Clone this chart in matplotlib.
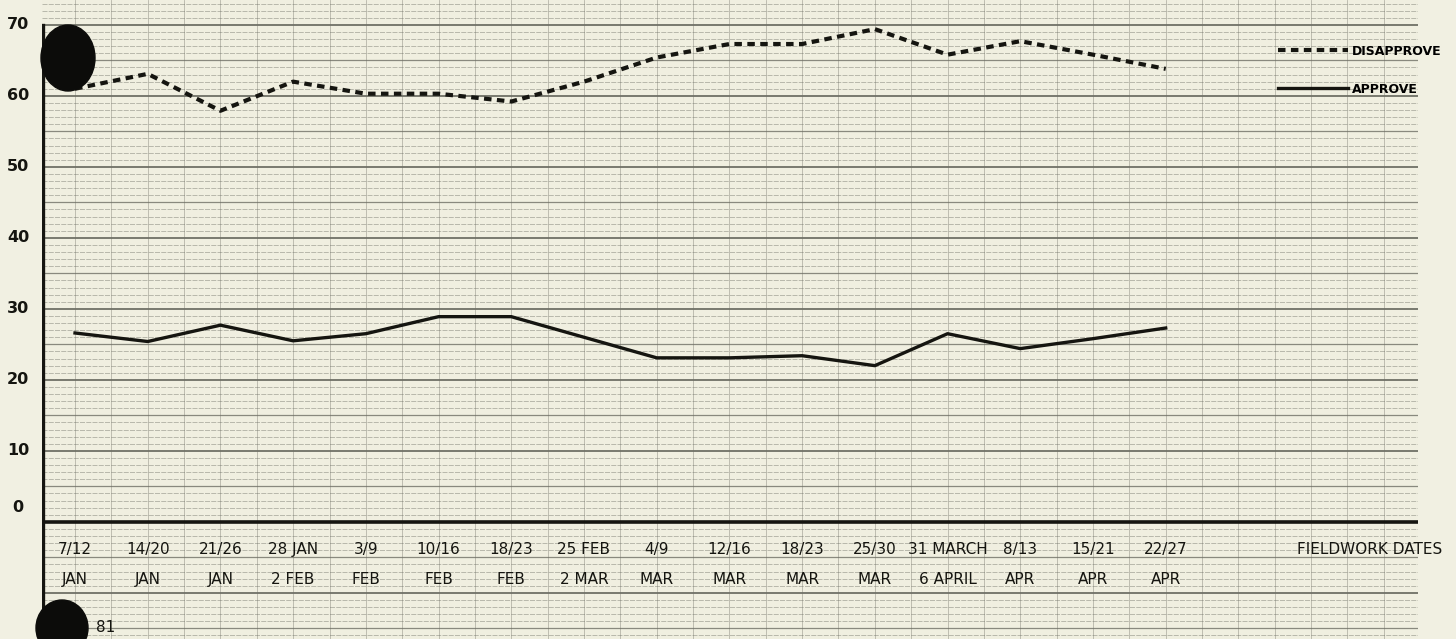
import numpy as np
import matplotlib
matplotlib.use("Agg")
from matplotlib import pyplot as plt
from matplotlib.patches import Ellipse

# fieldwork weeks, 1981
dates_top = ['7/12', '14/20', '21/26', '28 JAN', '3/9', '10/16', '18/23', '25 FEB',
             '4/9', '12/16', '18/23', '25/30', '31 MARCH', '8/13', '15/21', '22/27']
dates_bottom = ['JAN', 'JAN', 'JAN', '2 FEB', 'FEB', 'FEB', 'FEB', '2 MAR',
                'MAR', 'MAR', 'MAR', 'MAR', '6 APRIL', 'APR', 'APR', 'APR']

disapprove = [61.0, 63.1, 57.9, 62.0, 60.3, 60.3, 59.2, 62.0,
              65.4, 67.3, 67.3, 69.4, 65.8, 67.7, 65.8, 63.8]
approve = [26.6, 25.4, 27.7, 25.5, 26.5, 28.9, 28.9, 26.0,
           23.1, 23.1, 23.4, 22.0, 26.5, 24.4, 25.8, 27.3]

y_labels = [0, 10, 20, 30, 40, 50, 60, 70]

ink = '#151510'
paper = '#f0efe0'
rule = '#6f7066'

fig = plt.figure(figsize=(14.56, 6.39), dpi=100)
fig.patch.set_facecolor('#f1f0e2')
ax = fig.add_axes([42 / 1456, 0, 1376 / 1456, 1])
ax.set_facecolor(paper)

x = np.arange(len(dates_top))
xmin, xmax = -0.454, 18.47
ymin, ymax = -16.5, 73.5
ax.set_xlim(xmin, xmax)
ax.set_ylim(ymin, ymax)

# graph paper
for v in range(-16, 74):
    if v % 10 == 0:
        ax.axhline(v, color=rule, lw=1.3, zorder=0)
    elif v % 5 == 0:
        ax.axhline(v, color=rule, lw=0.9, alpha=0.8, zorder=0)
    else:
        ax.axhline(v, color=rule, lw=0.6, alpha=0.5, ls=(0, (6, 1.5)), zorder=0)
for gx in np.arange(0, 18.6, 0.5):
    ax.axvline(gx, color=rule, lw=0.6, alpha=0.45, zorder=0)

# axes drawn by hand
ax.axhline(0, color=ink, lw=2.6, zorder=2)
ax.axvline(xmin + 0.02, ymin=0, ymax=(70 - ymin) / (ymax - ymin), color=ink, lw=2.4, zorder=2)

ax.plot(x, disapprove, color=ink, lw=3.0, ls=(0, (1.8, 1.3)), label='DISAPPROVE', zorder=3)
ax.plot(x, approve, color=ink, lw=2.4, label='APPROVE', zorder=3)

for s in ax.spines.values():
    s.set_visible(False)
ax.set_xticks([])
ax.set_yticks([])

hand = dict(color=ink, fontsize=11, family='DejaVu Sans Condensed')

for i in range(len(x)):
    ax.text(x[i], -3.9, dates_top[i], ha='center', va='center', **hand)
    ax.text(x[i], -8.1, dates_bottom[i], ha='center', va='center', **hand)
ax.text(16.8, -3.9, 'FIELDWORK DATES', ha='left', va='center', **hand)

for v in y_labels:
    yy = v + 2.0 if v == 0 else v
    ax.text(-0.0174, yy, str(v), transform=ax.get_yaxis_transform(), ha='center', va='center',
            color=ink, fontsize=11.5, fontweight='bold')

leg = ax.legend(loc='upper left', bbox_to_anchor=(0.894, 0.94), frameon=False,
                handlelength=5.6, handletextpad=0.3, labelspacing=2.0, borderpad=0,
                prop={'family': 'DejaVu Sans Condensed', 'size': 9, 'weight': 'bold'})

# punched holes in the sheet
fig.add_artist(Ellipse((68 / 1456, 1 - 58 / 639), 54 / 1456, 66 / 639,
                       transform=fig.transFigure, color='#0c0c0a', zorder=10))
fig.add_artist(Ellipse((62 / 1456, 1 - 628 / 639), 52 / 1456, 56 / 639,
                       transform=fig.transFigure, color='#0c0c0a', zorder=10))
fig.text(96 / 1456, 1 - 628 / 639, '81', ha='left', va='center', color=ink, fontsize=11)

fig.savefig('out.png', dpi=100, facecolor=fig.get_facecolor())
